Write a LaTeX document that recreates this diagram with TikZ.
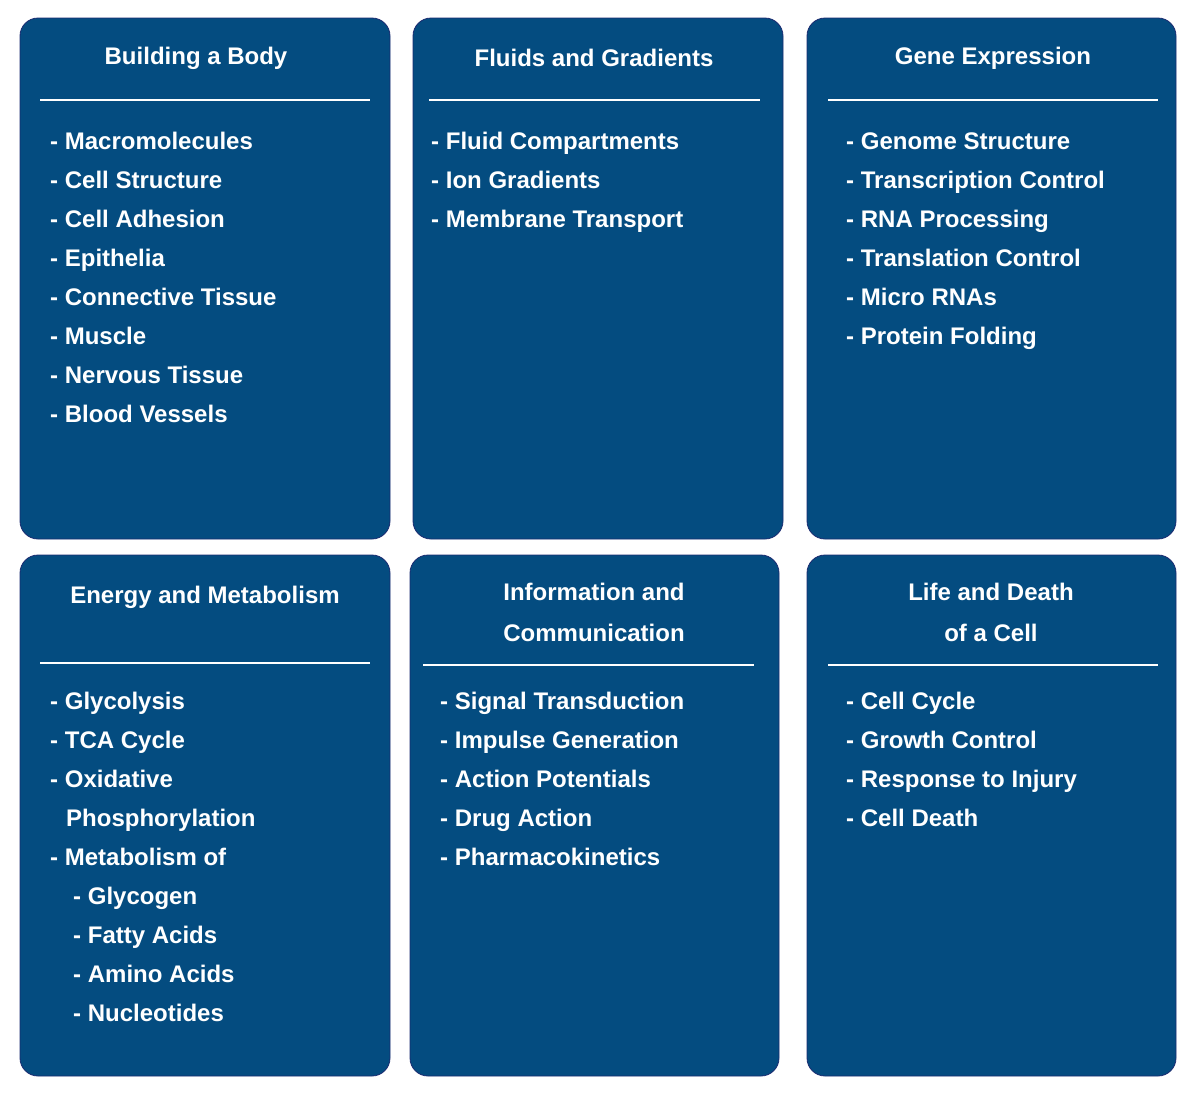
\documentclass[tikz,border=0pt]{standalone}
\usepackage{fontspec}
\setmainfont{Liberation Sans}
\definecolor{boxblue}{HTML}{044C80}
\definecolor{boxedge}{HTML}{1A2A70}
\begin{document}
\begin{tikzpicture}[x=1pt,y=-1pt,
  card/.style={draw=boxedge,line width=0.8pt,fill=boxblue,rounded corners=18pt},
  ttl/.style={text=white,font=\bfseries\fontsize{24}{41}\selectfont,align=center,inner sep=0pt},
  itm/.style={text=white,font=\bfseries\fontsize{24}{29}\selectfont,anchor=base west,inner sep=0pt},
  rule/.style={draw=white,line width=1.5pt}]
\useasboundingbox (0,0) rectangle (1200,1098);
% cards
\draw[card] (20,18) rectangle (390,539);
\draw[card] (413,18) rectangle (783,539);
\draw[card] (807,18) rectangle (1176,539);
\draw[card] (20,555) rectangle (390,1076);
\draw[card] (410,555) rectangle (779,1076);
\draw[card] (807,555) rectangle (1176,1076);
% titles
\node[ttl] (t1) at (196,58) {Building a Body};
\node[ttl] (t2) at (594,58) {Fluids and Gradients};
\node[ttl] (t3) at (993,58) {Gene Expression};
\node[ttl] (t4) at (205,597) {Energy and Metabolism};
\node[ttl] (t5) at (594,612) {Information and\\Communication};
\node[ttl] (t6) at (991,612) {Life and Death\\of a Cell};
% rules
\coordinate (r1a) at (40,100); \coordinate (r1b) at (370,100); \draw[rule] (r1a) -- (r1b);
\coordinate (r2a) at (429,100); \coordinate (r2b) at (760,100); \draw[rule] (r2a) -- (r2b);
\coordinate (r3a) at (828,100); \coordinate (r3b) at (1158,100); \draw[rule] (r3a) -- (r3b);
\coordinate (r4a) at (40,663); \coordinate (r4b) at (370,663); \draw[rule] (r4a) -- (r4b);
\coordinate (r5a) at (423,665); \coordinate (r5b) at (754,665); \draw[rule] (r5a) -- (r5b);
\coordinate (r6a) at (828,665); \coordinate (r6b) at (1158,665); \draw[rule] (r6a) -- (r6b);
% items
\foreach \t [count=\i] in {Macromolecules,Cell Structure,Cell Adhesion,Epithelia,Connective Tissue,Muscle,Nervous Tissue,Blood Vessels}
  \node[itm] (a\i) at (50,{149+39*(\i-1)}) {- \t};
\foreach \t [count=\i] in {Fluid Compartments,Ion Gradients,Membrane Transport}
  \node[itm] (b\i) at (431,{149+39*(\i-1)}) {- \t};
\foreach \t [count=\i] in {Genome Structure,Transcription Control,RNA Processing,Translation Control,Micro RNAs,Protein Folding}
  \node[itm] (c\i) at (846,{149+39*(\i-1)}) {- \t};
\node[itm] (d1) at (50,709) {- Glycolysis};
\node[itm] (d2) at (50,748) {- TCA Cycle};
\node[itm] (d3) at (50,787) {- Oxidative};
\node[itm] (d4) at (66,826) {Phosphorylation};
\node[itm] (d5) at (50,865) {- Metabolism of};
\node[itm] (d6) at (73,904) {- Glycogen};
\node[itm] (d7) at (73,943) {- Fatty Acids};
\node[itm] (d8) at (73,982) {- Amino Acids};
\node[itm] (d9) at (73,1021) {- Nucleotides};
\foreach \t [count=\i] in {Signal Transduction,Impulse Generation,Action Potentials,Drug Action,Pharmacokinetics}
  \node[itm] (e\i) at (440,{709+39*(\i-1)}) {- \t};
\foreach \t [count=\i] in {Cell Cycle,Growth Control,Response to Injury,Cell Death}
  \node[itm] (f\i) at (846,{709+39*(\i-1)}) {- \t};
\end{tikzpicture}
\end{document}
